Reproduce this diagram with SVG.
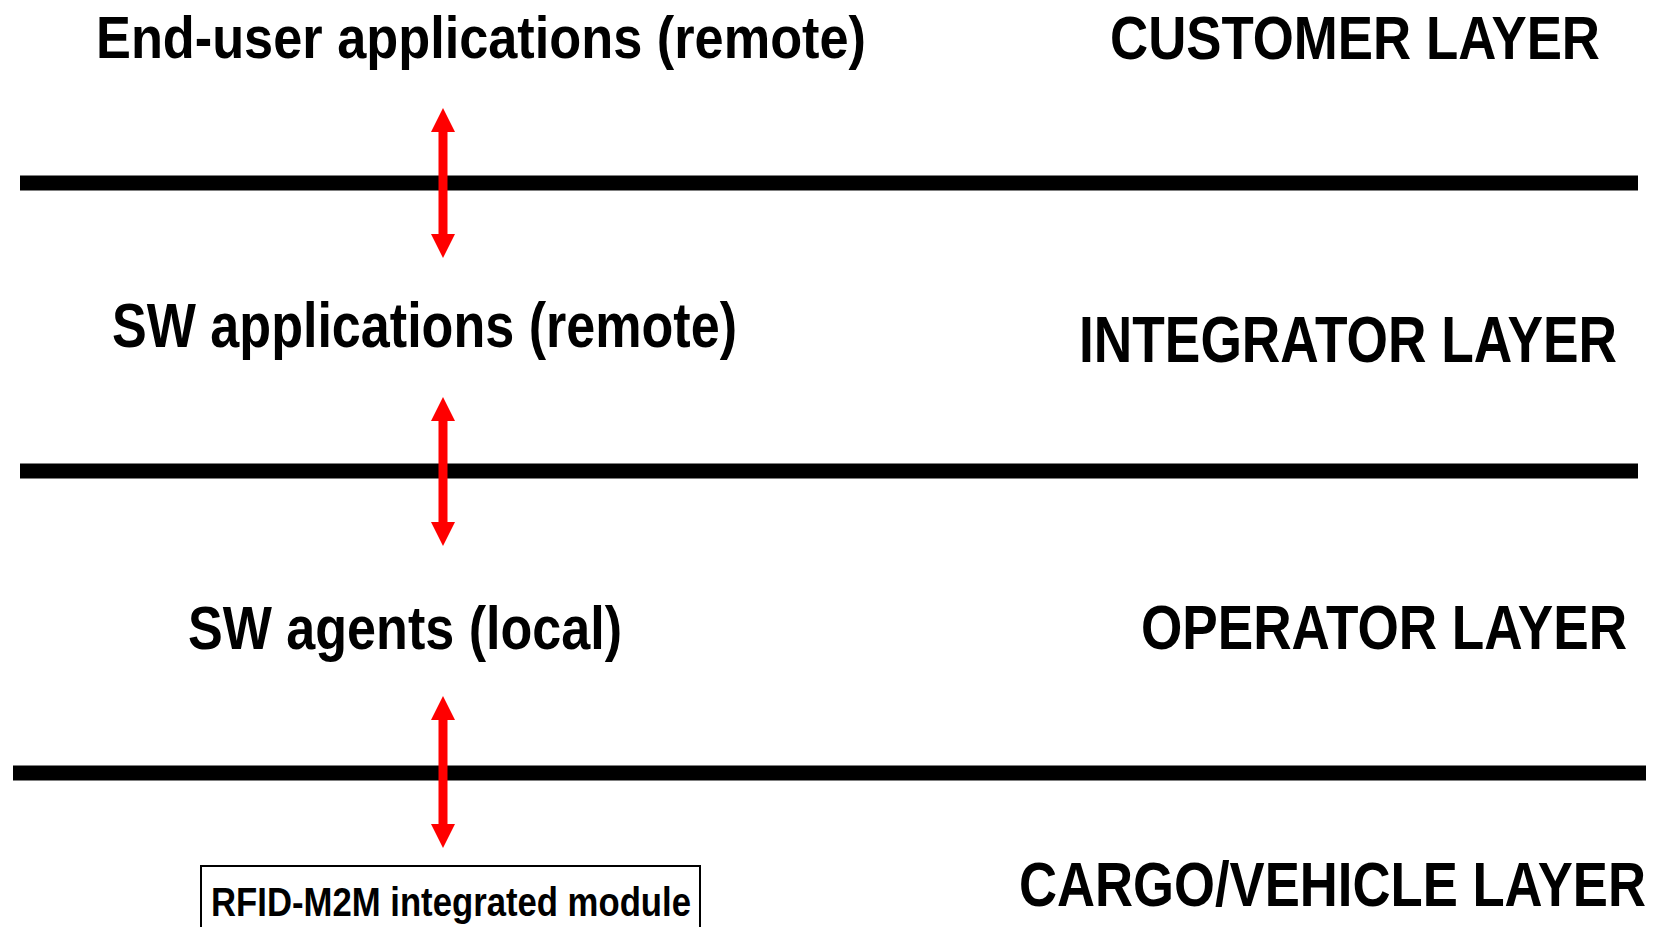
<svg xmlns="http://www.w3.org/2000/svg" width="1659" height="927" viewBox="0 0 1659 927">
<style>
.t{font-family:"Liberation Sans",Arial,sans-serif;font-weight:bold;fill:#000}
.bar{stroke:#000;stroke-width:15}
.arr{stroke:#ff0000;stroke-width:9;marker-start:url(#ah);marker-end:url(#ah)}
</style>
<defs>
<marker id="ah" markerUnits="userSpaceOnUse" markerWidth="24" markerHeight="24" refX="4" refY="12" orient="auto-start-reverse" viewBox="0 0 24 24">
<path d="M0,0 L24,12 L0,24 z" fill="#ff0000"/>
</marker>
</defs>
<rect width="1659" height="927" fill="#fff"/>
<g id="layer-lines">
<line class="bar" x1="20" y1="183" x2="1638" y2="183"/>
<line class="bar" x1="20" y1="471" x2="1638" y2="471"/>
<line class="bar" x1="13" y1="773" x2="1646" y2="773"/>
</g>
<g id="end-user-apps"><text class="t" transform="translate(96,58) scale(0.8,1)" font-size="60" textLength="962.5" lengthAdjust="spacingAndGlyphs">End-user applications (remote)</text></g>
<g id="customer-layer"><text class="t" transform="translate(1110,59) scale(0.8,1)" font-size="61" textLength="612.5" lengthAdjust="spacingAndGlyphs">CUSTOMER LAYER</text></g>
<g id="sw-apps"><text class="t" transform="translate(112,347) scale(0.8,1)" font-size="63" textLength="781.25" lengthAdjust="spacingAndGlyphs">SW applications (remote)</text></g>
<g id="integrator-layer"><text class="t" transform="translate(1079,362) scale(0.8,1)" font-size="65" textLength="672.5" lengthAdjust="spacingAndGlyphs">INTEGRATOR LAYER</text></g>
<g id="sw-agents"><text class="t" transform="translate(188,649) scale(0.8,1)" font-size="62" textLength="542.5" lengthAdjust="spacingAndGlyphs">SW agents (local)</text></g>
<g id="operator-layer"><text class="t" transform="translate(1141,649) scale(0.8,1)" font-size="63" textLength="607.5" lengthAdjust="spacingAndGlyphs">OPERATOR LAYER</text></g>
<g id="rfid-module">
<rect x="201" y="866" width="499" height="70" fill="#fff" stroke="#000" stroke-width="2"/>
<text class="t" transform="translate(211,916) scale(0.8,1)" font-size="41" textLength="600" lengthAdjust="spacingAndGlyphs">RFID-M2M integrated module</text>
</g>
<g id="cargo-layer"><text class="t" transform="translate(1019,906) scale(0.8,1)" font-size="63" textLength="783.75" lengthAdjust="spacingAndGlyphs">CARGO/VEHICLE LAYER</text></g>
<g id="connectors">
<line class="arr" x1="443" y1="128" x2="443" y2="238"/>
<line class="arr" x1="443" y1="417" x2="443" y2="526"/>
<line class="arr" x1="443" y1="716" x2="443" y2="828"/>
</g>
</svg>
